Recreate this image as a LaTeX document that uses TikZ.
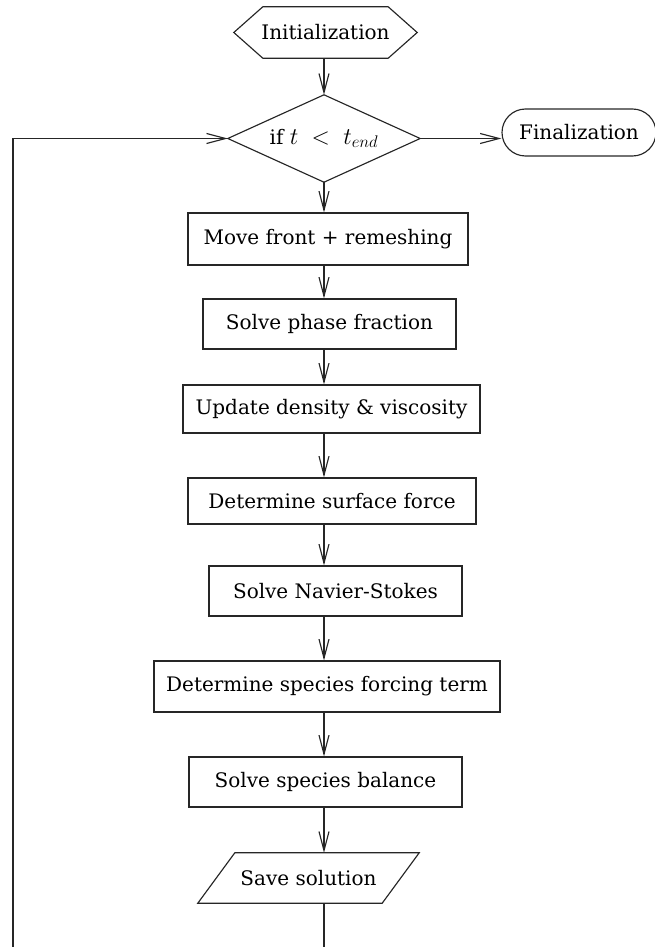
\RequirePackage{fix-cm}
\documentclass[tikz,border=0pt]{standalone}
\usepackage{fontspec}
\setmainfont{DejaVu Serif}
\usetikzlibrary{arrows.meta}
\begin{document}
\begin{tikzpicture}[x=1pt,y=-1pt,
  every node/.style={font=\fontsize{20}{24}\selectfont, inner sep=0pt},
  edge/.style={line width=1.15pt, draw=black!85},
  procbox/.style={draw=black!85, line width=1.15pt, rectangle},
  arr/.style={edge, -{Straight Barb[length=19pt,width=10pt]}}
]
\useasboundingbox (0,0) rectangle (655,947);

% start / decision / end
\node[minimum width=183pt, minimum height=51pt] (init) at (325.5,32.5) {Initialization};
\draw[edge] (init.west) -- ([xshift=29pt]init.north west) -- ([xshift=-29pt]init.north east)
  -- (init.east) -- ([xshift=-29pt]init.south east) -- ([xshift=29pt]init.south west) -- cycle;

\node[minimum width=192pt, minimum height=87pt] (dia) at (324,138.5)
  {if {\fontsize{24}{28}\selectfont$t\;<\;t_{end}$}};
\draw[edge] (dia.west) -- (dia.north) -- (dia.east) -- (dia.south) -- cycle;

\node[procbox, rounded corners=23.5pt, minimum width=154pt, minimum height=47pt] (fin) at (579,132.5) {Finalization};

% process boxes
\node[procbox, minimum width=280pt, minimum height=52pt] (move) at (328,239) {Move front + remeshing};
\node[procbox, minimum width=253pt, minimum height=50pt] (phase) at (329.5,324) {Solve phase fraction};
\node[procbox, minimum width=297pt, minimum height=48pt] (upd) at (331.5,409) {Update density \& viscosity};
\node[procbox, minimum width=288pt, minimum height=46pt] (surf) at (332,501) {Determine surface force};
\node[procbox, minimum width=253pt, minimum height=50pt] (ns) at (335.5,591) {Solve Navier-Stokes};
\node[procbox, minimum width=346pt, minimum height=51pt] (force) at (327,686.5) {Determine species forcing term};
\node[procbox, minimum width=273pt, minimum height=50pt] (bal) at (325.5,782) {Solve species balance};

% output parallelogram
\node[minimum width=221pt, minimum height=50pt] (save) at (308.5,878) {Save solution};
\draw[edge] (save.south west) -- ([xshift=37pt]save.north west) -- (save.north east)
  -- ([xshift=-37pt]save.south east) -- cycle;

% connectors
\draw[arr] (init.south -| dia.north) -- (dia.north);
\draw[arr] (dia.east) -- (fin.west |- dia.east);
\draw[arr] (dia.south) -- (move.north -| dia.south);
\draw[arr] (move.south -| dia.south) -- (phase.north -| dia.south);
\draw[arr] (phase.south -| dia.south) -- (upd.north -| dia.south);
\draw[arr] (upd.south -| dia.south) -- (surf.north -| dia.south);
\draw[arr] (surf.south -| dia.south) -- (ns.north -| dia.south);
\draw[arr] (ns.south -| dia.south) -- (force.north -| dia.south);
\draw[arr] (force.south -| dia.south) -- (bal.north -| dia.south);
\draw[arr] (bal.south -| dia.south) -- (save.north -| dia.south);

% loop back (continues below the visible area)
\coordinate (savebot) at (324,947);
\coordinate (loopbot) at (13,947);
\draw[edge] (save.south -| dia.south) -- (savebot);
\draw[arr] (loopbot) |- (dia.west);
\end{tikzpicture}
\end{document}
